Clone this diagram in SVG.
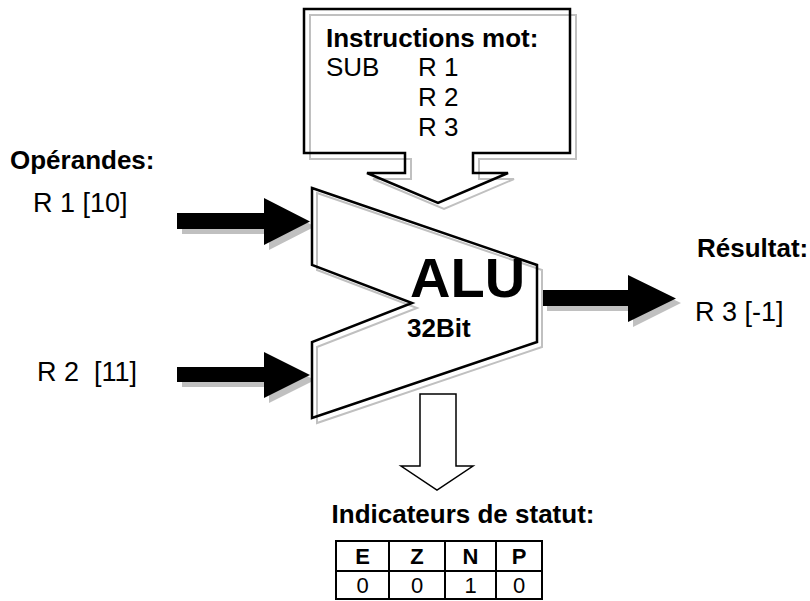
<svg xmlns="http://www.w3.org/2000/svg" width="810" height="601" viewBox="0 0 810 601">
<style>
.t{font-family:"Liberation Sans",Arial,sans-serif;fill:#000}
.b{font-weight:bold}
.sh{fill:none;stroke:#c0c0c0;stroke-width:2}
.ol{fill:none;stroke:#000;stroke-width:2.5;stroke-linejoin:miter}
.arr{fill:#000}
.arrsh{fill:#c0c0c0}
.cell{fill:none;stroke:#000;stroke-width:2}
</style>
<rect width="810" height="601" fill="#fff"/>
<g id="connectors">
  <g id="in1">
    <path class="arrsh" d="M182,218 H269 V203 L315,226.5 L269,250 V234 H182 Z"/>
    <path class="arr" d="M177,213 H264 V198 L310,221.5 L264,245 V229 H177 Z"/>
  </g>
  <g id="in2">
    <path class="arrsh" d="M182,372 H269 V357 L315,380 L269,403 V387 H182 Z"/>
    <path class="arr" d="M177,367 H264 V352 L310,375 L264,398 V382 H177 Z"/>
  </g>
  <g id="out">
    <path class="arrsh" d="M547,295 H633 V280 L681,303 L633,327 V311 H547 Z"/>
    <path class="arr" d="M542,290 H628 V275 L676,298.5 L628,322 V306 H542 Z"/>
  </g>
  <g id="down">
    <path d="M420,394 H456 V466 H473 L437,490 L401,466 H420 Z" fill="#fff" stroke="#000" stroke-width="1.5"/>
  </g>
</g>
<g id="instruction">
  <path d="M304,9 H570 V153 H473 V173 H508 L438,203 L367,173 H405 V153 H304 Z" fill="#fff"/>
  <path class="sh" d="M310,15 H576 V159 H479 V179 H514 L444,209 L373,179 H411 V159 H310 Z"/>
  <path class="ol" d="M304,9 H570 V153 H473 V173 H508 L438,203 L367,173 H405 V153 H304 Z"/>
  <text class="t b" x="326" y="47" font-size="26">Instructions mot:</text>
  <text class="t" x="326" y="76" font-size="26">SUB</text>
  <text class="t" x="418" y="76" font-size="26">R 1</text>
  <text class="t" x="418" y="106" font-size="26">R 2</text>
  <text class="t" x="418" y="136" font-size="26">R 3</text>
</g>
<g id="alu">
  <path d="M312,188 L537,265 V342 L312,418 V342 L412,303 L312,265 Z" fill="#fff"/>
  <path class="sh" d="M317,193 L542,270 V347 L317,423 V347 L417,308 L317,270 Z"/>
  <path class="ol" d="M312,188 L537,265 V342 L312,418 V342 L412,303 L312,265 Z"/>
  <text class="t b" x="410" y="297" font-size="56">ALU</text>
  <text class="t b" x="407" y="337" font-size="26">32Bit</text>
</g>
<g id="operands">
  <text class="t b" x="10" y="169" font-size="26">Opérandes:</text>
  <text class="t" x="33" y="212" font-size="27">R 1 [10]</text>
  <text class="t" x="37" y="381" font-size="27" xml:space="preserve">R 2  [11]</text>
</g>
<g id="result">
  <text class="t b" x="697" y="257" font-size="26">Résultat:</text>
  <text class="t" x="695" y="321" font-size="27">R 3 [-1]</text>
</g>
<g id="status">
  <text class="t b" x="463" y="523" font-size="26" text-anchor="middle">Indicateurs de statut:</text>
  <rect class="cell" x="336" y="541" width="206" height="58"/>
  <line class="cell" x1="336" y1="571" x2="542" y2="571"/>
  <line class="cell" x1="389" y1="541" x2="389" y2="599"/>
  <line class="cell" x1="445" y1="541" x2="445" y2="599"/>
  <line class="cell" x1="496" y1="541" x2="496" y2="599"/>
  <g class="t" font-size="22" text-anchor="middle">
    <text class="b" x="362.5" y="564">E</text>
    <text class="b" x="417" y="564">Z</text>
    <text class="b" x="470.5" y="564">N</text>
    <text class="b" x="519" y="564">P</text>
    <text x="362.5" y="593">0</text>
    <text x="417" y="593">0</text>
    <text x="470.5" y="593">1</text>
    <text x="519" y="593">0</text>
  </g>
</g>
</svg>
